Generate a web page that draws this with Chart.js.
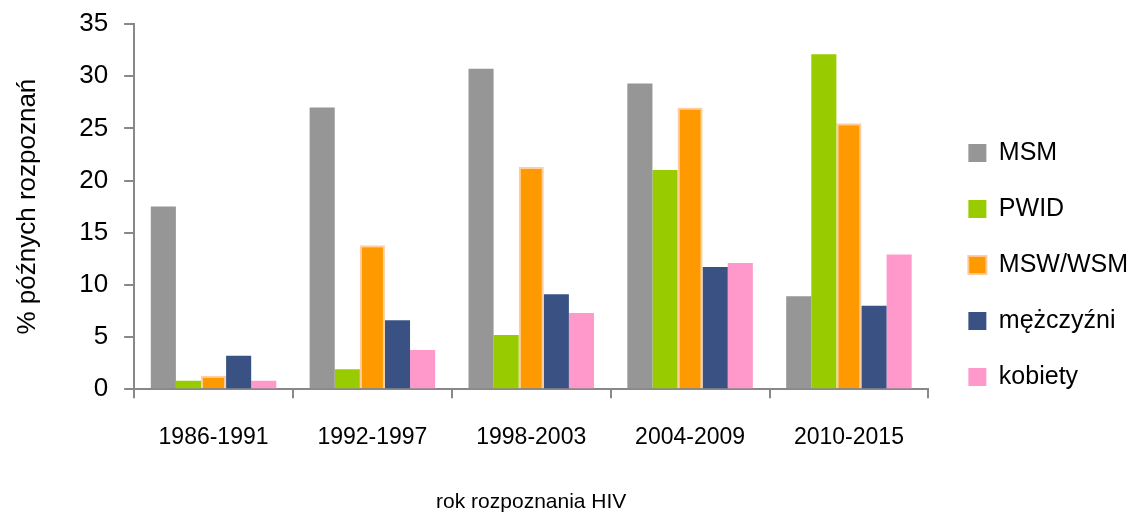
<!DOCTYPE html>
<html>
<head>
<meta charset="utf-8">
<script src="https://cdn.jsdelivr.net/npm/chart.js@4.4.0/dist/chart.umd.min.js"></script>
<style>
  body { margin: 0; background: #fff; }
  #wrap { width: 1142px; height: 517px; }
</style>
</head>
<body>
<div id="wrap"><canvas id="myChart" width="1142" height="517"></canvas></div>
<script>
// categories and series
const years = ["1986-1991", "1992-1997", "1998-2003", "2004-2009", "2010-2015"];
const msm = [17.5, 27.0, 30.7, 29.3, 8.9];
const pwid = [0.8, 1.9, 5.2, 21.0, 32.1];
const msw = [1.3, 13.8, 21.3, 27.0, 25.5];
const men = [3.2, 6.6, 9.1, 11.7, 8.0];
const women = [0.8, 3.75, 7.3, 12.1, 12.9];

const font = "'Liberation Sans', Arial, sans-serif";

// widen the gap between plot and legend a bit
const legendGap = {
  id: 'legendGap',
  beforeInit(chart) {
    const lg = chart.legend;
    if (!lg) return;
    const fit = lg.fit;
    lg.fit = function () { fit.call(this); this.width += 9; };
  },
  afterLayout(chart) {
    if (chart.legend) {
      chart.legend.left += 9; chart.legend.right += 9;
      chart.legend.top += 6; chart.legend.bottom += 6;
    }
  }
};

const myChart = document.getElementById('myChart');

let barChart = new Chart(myChart, {
  type: 'bar',
  data: {
    labels: years,
    datasets: [
      { label: 'MSM', data: msm, backgroundColor: '#969696', borderWidth: 0 },
      { label: 'PWID', data: pwid, backgroundColor: '#99CC00', borderWidth: 0 },
      { label: 'MSW/WSM', data: msw, backgroundColor: '#FF9900', borderColor: 'rgba(255,200,150,0.9)', borderWidth: 2, borderSkipped: 'bottom' },
      { label: 'mężczyźni', data: men, backgroundColor: '#3A5283', borderWidth: 0 },
      { label: 'kobiety', data: women, backgroundColor: '#FF99CC', borderWidth: 0 }
    ]
  },
  plugins: [legendGap],
  options: {
    responsive: false,
    animation: false,
    layout: { padding: { top: 3, right: 4, left: 12, bottom: 2 } },
    datasets: { bar: { categoryPercentage: 0.79, barPercentage: 1.0 } },
    plugins: {
      legend: {
        position: 'right',
        labels: {
          font: { family: font, size: 25 },
          color: '#000',
          boxWidth: 18,
          boxHeight: 18,
          padding: 31
        }
      },
      tooltip: { enabled: false }
    },
    scales: {
      x: {
        grid: { display: true, drawOnChartArea: false, drawTicks: true, tickLength: 9, color: '#888', lineWidth: 2 },
        border: { display: true, color: '#888', width: 2 },
        ticks: { font: { family: font, size: 23 }, color: '#000', padding: 26 },
        title: { display: true, text: 'rok rozpoznania HIV', font: { family: font, size: 21 }, color: '#000', padding: { top: 12, bottom: 0 } }
      },
      y: {
        min: 0,
        max: 35,
        afterFit: (s) => { s.paddingTop = 24; },
        grid: { display: true, drawOnChartArea: false, drawTicks: true, tickLength: 10, color: '#888', lineWidth: 2 },
        border: { display: true, color: '#888', width: 2 },
        ticks: { stepSize: 5, font: { family: font, size: 26 }, color: '#000', padding: 16 },
        title: { display: true, text: '% późnych rozpoznań', font: { family: font, size: 26 }, color: '#000', padding: { top: 0, bottom: 20 } }
      }
    }
  }
});
</script>
</body>
</html>
